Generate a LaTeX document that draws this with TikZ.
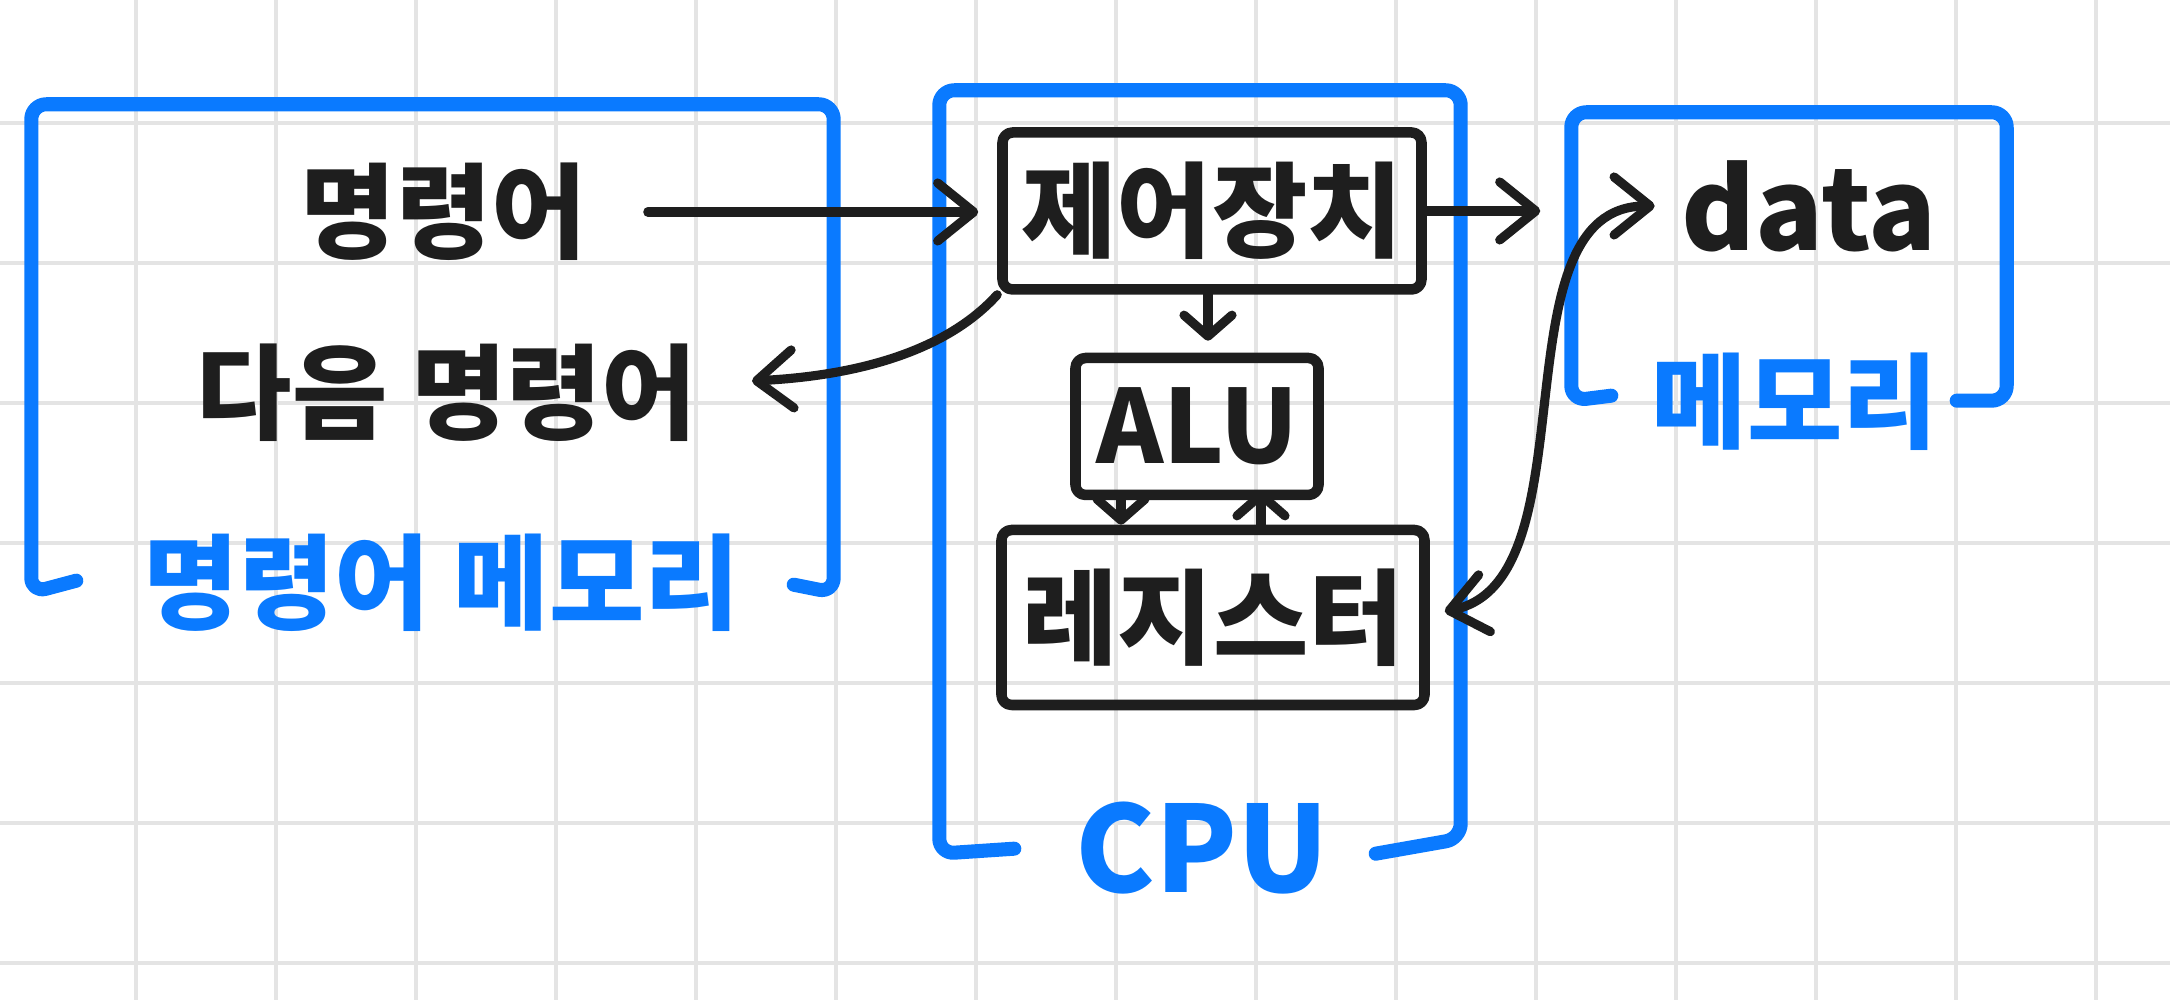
\documentclass[tikz,border=0pt]{standalone}
\usepackage{fontspec}
\setmainfont{Noto Sans CJK KR}
\usepackage{tikz}
\usetikzlibrary{arrows.meta}
\definecolor{PenBlue}{RGB}{10,122,255}
\definecolor{PenBlack}{RGB}{30,30,30}
\definecolor{GridGray}{RGB}{228,228,228}

\begin{document}
\begin{tikzpicture}[
    line cap=round, line join=round,
    >={Straight Barb[length=3.6mm, width=5.8mm, round]},
    gridline/.style={GridGray, line width=1.1pt},
    bracket/.style={PenBlue, line width=4pt, rounded corners=1.5mm},
    memarea/.style={inner sep=0pt},
    unitbox/.style={draw=PenBlack, line width=3pt, rounded corners=1mm, inner sep=0pt,
                    text=PenBlack, font=\fontsize{29.5}{32}\selectfont\bfseries},
    lbl/.style={inner sep=0pt, text=PenBlack, font=\fontsize{29.5}{32}\selectfont\bfseries},
    bluelbl/.style={inner sep=0pt, text=PenBlue, font=\fontsize{29.5}{32}\selectfont\bfseries},
    penarrow/.style={PenBlack, line width=2.6pt},
    flathead/.style={-{Straight Barb[length=2.1mm, width=4.8mm, round]}},
  ]
        \fill[white] (0,0) rectangle (21.7,10);
        \useasboundingbox (0,0) rectangle (21.7,10);
        % Grid paper
        \foreach \i in {0,...,14} {
          \draw[gridline] ({1.36+1.4*\i},0) -- ++(0,10);
        }
        \foreach \j in {0,...,6} {
          \draw[gridline] (0,{8.77-1.4*\j}) -- ++(21.7,0);
        }

        % Instruction memory
        \node[memarea, minimum width=8.01cm, minimum height=4.87cm] (imem) at (4.325, 6.515) {};
        \node[bluelbl] (imemlbl) at (4.42, 4.17) {명령어 메모리};
        \draw[bracket] ([shift={(0.45,0.12)}]imem.south west) -- (imem.south west)
          -- (imem.north west) -- (imem.north east) -- (imem.south east)
          -- ([shift={(-0.4,0.08)}]imem.south east);
        \node[lbl] (instr) at (4.44, 7.88) {명령어};
        \node[lbl] (next) at (4.47, 6.07) {다음 명령어};

        % CPU
        \node[memarea, minimum width=5.2cm, minimum height=7.62cm] (cpu) at (12.0, 5.28) {};
        \node[bluelbl, font=\fontsize{34}{36}\selectfont\bfseries] (cpulbl) at (12.02, 1.52) {CPU};
        \draw[bracket] ([shift={(0.75,0.05)}]cpu.south west) -- (cpu.south west)
          -- (cpu.north west) -- (cpu.north east) -- ([yshift=0.15cm]cpu.south east)
          -- ([shift={(-0.85,0)}]cpu.south east);
        \node[unitbox, minimum width=4.19cm, minimum height=1.57cm] (ctrl) at (12.12, 7.89) {제어장치};
        \node[unitbox, minimum width=2.43cm, minimum height=1.37cm,
              font=\fontsize{29}{31}\selectfont\bfseries] (alu) at (11.97, 5.735) {ALU};
        \node[unitbox, minimum width=4.23cm, minimum height=1.75cm] (reg) at (12.13, 3.825) {레지스터};

        % Data memory
        \node[memarea, minimum width=4.34cm, minimum height=2.87cm] (dmem) at (17.89, 7.435) {};
        \node[bluelbl] (dmemlbl) at (17.95, 5.98) {메모리};
        \draw[bracket] ([shift={(0.4,0.05)}]dmem.south west) -- (dmem.south west)
          -- (dmem.north west) -- (dmem.north east) -- (dmem.south east)
          -- ([shift={(-0.5,0)}]dmem.south east);
        \node[lbl, font=\fontsize{32}{34}\selectfont\bfseries] (data) at (18.09, 7.94) {data};

        % Arrows
        \draw[penarrow, ->, shorten >=1.9mm] ([xshift=6mm]instr.east) -- (instr.east -| ctrl.west);
        \draw[penarrow, ->] (ctrl.south west) .. controls +(-0.45,-0.5) and +(1.2,0.06) .. ([shift={(5.4mm,1.2mm)}]next.east);
        \draw[penarrow, flathead, shorten >=1.2mm] ([xshift=-0.4mm]ctrl.south) -- ([xshift=-0.4mm]ctrl.south |- alu.north);
        \draw[penarrow, flathead] ([xshift=-7.6mm]alu.south) -- ([xshift=-7.6mm]alu.south |- reg.north);
        \draw[penarrow, flathead, shorten >=-1mm] ([xshift=6.4mm]alu.south |- reg.north) -- ([xshift=6.4mm]alu.south);
        \draw[penarrow, ->, shorten >=3.1mm] (ctrl.east) -- (ctrl.east -| dmem.west);
        \draw[penarrow, <->] ([shift={(1.5mm,0.6mm)}]reg.east) .. controls +(1.5,0.31) and +(-1.62,0) .. ([xshift=-2.6mm]data.west);
      \end{tikzpicture}
\end{document}
